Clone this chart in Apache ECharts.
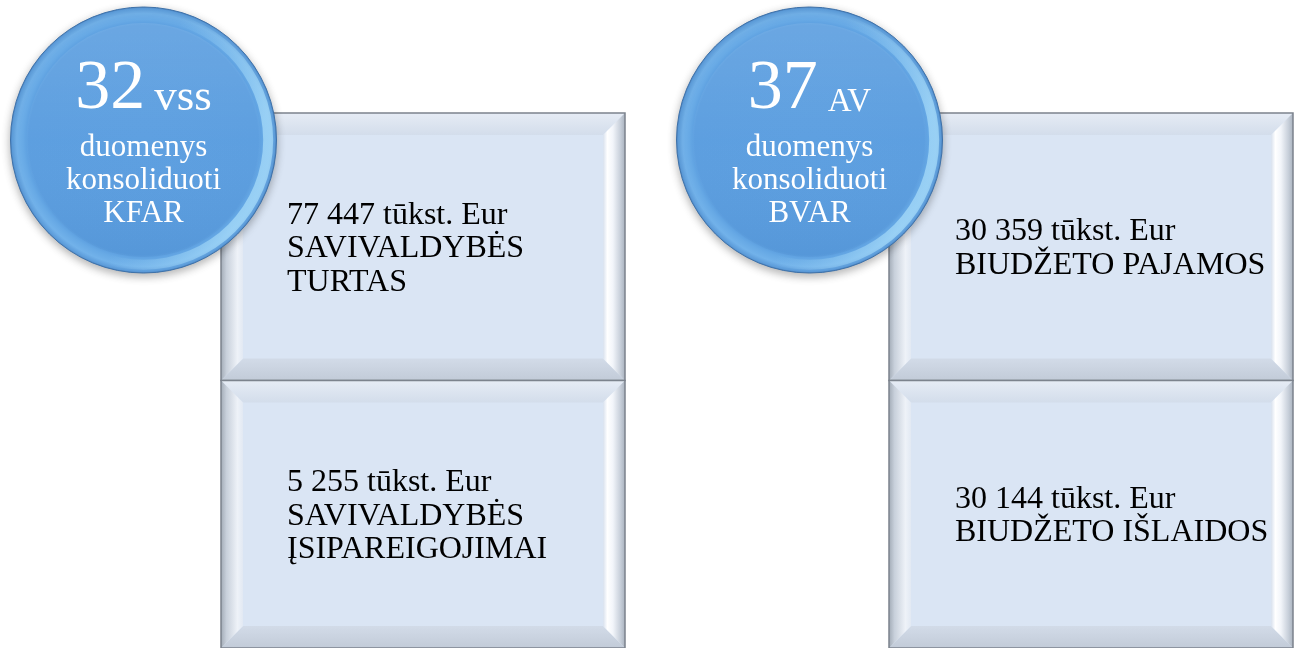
<!DOCTYPE html>
<html>
<head>
<meta charset="utf-8">
<script src="https://cdn.jsdelivr.net/npm/echarts@6/dist/echarts.min.js"></script>
<style>
html,body{margin:0;padding:0;background:#fff;}
#chart{width:1299px;height:648px;}
</style>
</head>
<body>
<div id="chart"></div>
<script>
// ---- data ----
const circleCounts = [32, 37];
const circleUnits = ['vss', 'AV'];
const circleLines = [
  ['duomenys', 'konsoliduoti', 'KFAR'],
  ['duomenys', 'konsoliduoti', 'BVAR']
];
const unitLabel = 'tūkst. Eur';
const boxValues = [
  ['77 447', '5 255'],
  ['30 359', '30 144']
];
const boxLabels = [
  [['SAVIVALDYBĖS', 'TURTAS'], ['SAVIVALDYBĖS', 'ĮSIPAREIGOJIMAI']],
  [['BIUDŽETO PAJAMOS'], ['BIUDŽETO IŠLAIDOS']]
];

// ---- layout ----
const FONT = "'Liberation Serif', 'Times New Roman', serif";
const panels = [
  { cx: 143.5, cy: 140, r: 133, boxX: 221, boxW: 404, unitSize: 45, gap: 9 },
  { cx: 809.5, cy: 140, r: 133, boxX: 889, boxW: 404, unitSize: 33, gap: 10 }
];
const boxTop = 113, boxH = 267.5;
const bev = 22;

const cv = document.createElement('canvas').getContext('2d');
function measure(text, size) {
  cv.font = size + 'px ' + FONT;
  return cv.measureText(text).width;
}

function lin(x, y, x2, y2, stops) {
  return { type: 'linear', x: x, y: y, x2: x2, y2: y2,
    colorStops: stops.map(s => ({ offset: s[0], color: s[1] })) };
}

function bevelBox(x, y, w, h, lines) {
  const els = [];
  els.push({ type: 'rect', shape: { x: x, y: y, width: w, height: h },
    style: { fill: '#dae5f4' } });
  // top
  els.push({ type: 'polygon', shape: { points: [[x, y], [x + w, y], [x + w - bev, y + bev], [x + bev, y + bev]] },
    style: { fill: lin(0, 0, 0, 1, [[0, '#e6ecf5'], [1, '#d3ddeb']]) } });
  // bottom
  els.push({ type: 'polygon', shape: { points: [[x, y + h], [x + w, y + h], [x + w - bev, y + h - bev], [x + bev, y + h - bev]] },
    style: { fill: lin(0, 0, 0, 1, [[0, '#d2dbe8'], [1, '#c2cbd8']]) } });
  // left
  els.push({ type: 'polygon', shape: { points: [[x, y], [x + bev, y + bev], [x + bev, y + h - bev], [x, y + h]] },
    style: { fill: lin(0, 0, 1, 0, [[0, '#a3acb7'], [0.25, '#c8d0db'], [0.75, '#eef2f8'], [1, '#e2e9f3']]) } });
  // right
  els.push({ type: 'polygon', shape: { points: [[x + w, y], [x + w, y + h], [x + w - bev, y + h - bev], [x + w - bev, y + bev]] },
    style: { fill: lin(0, 0, 1, 0, [[0, '#d8e1ee'], [0.2, '#ffffff'], [0.45, '#f2f5fa'], [0.8, '#c6ced9'], [1, '#aab3bf']]) } });
  // outline
  els.push({ type: 'rect', shape: { x: x, y: y, width: w, height: h },
    style: { fill: 'none', stroke: '#7c838d', lineWidth: 1.5 } });
  // text
  els.push({ type: 'text', x: x + 66, y: y + h / 2 + 2,
    style: { text: lines.join('\n'), font: '32px ' + FONT, fill: '#000000',
      align: 'left', verticalAlign: 'middle', lineHeight: 33.5 } });
  return els;
}

function circle(p, count, unit, lines) {
  const els = [];
  els.push({ type: 'circle', shape: { cx: p.cx, cy: p.cy, r: p.r },
    style: {
      fill: { type: 'radial', x: 0.5, y: 0.5, r: 0.5, colorStops: [
        { offset: 0, color: '#5b9ee0' }, { offset: 0.86, color: '#5a9ddf' },
        { offset: 0.9, color: '#67a9e5' }, { offset: 0.95, color: '#72b2ea' },
        { offset: 0.985, color: '#5e9edd' }, { offset: 1, color: '#4680c0' }] },
      stroke: '#3e72aa', lineWidth: 1,
      shadowBlur: 8, shadowOffsetY: 3, shadowColor: 'rgba(0,0,0,0.3)'
    } });
  // right-side rim highlight
  els.push({ type: 'ring', shape: { cx: p.cx, cy: p.cy, r: p.r * 0.975, r0: p.r * 0.9 },
    style: { fill: lin(0, 0, 1, 0.3, [[0, 'rgba(160,215,248,0)'], [0.6, 'rgba(160,215,248,0)'], [1, 'rgba(170,222,250,0.7)']]) } });
  // top sheen
  els.push({ type: 'circle', shape: { cx: p.cx, cy: p.cy, r: p.r * 0.88 },
    style: { fill: lin(0, 0, 0, 1, [[0, 'rgba(255,255,255,0.10)'], [0.5, 'rgba(255,255,255,0.02)'], [1, 'rgba(0,40,100,0.05)']]) } });
  const numStr = String(count);
  const wn = measure(numStr, 70), wu = measure(unit, p.unitSize);
  const start = p.cx - (wn + p.gap + wu) / 2;
  const baseline = p.cy - 27;
  els.push({ type: 'text', x: start, y: baseline - 0.3375 * 70,
    style: { text: numStr, font: '70px ' + FONT, fill: '#ffffff', align: 'left', verticalAlign: 'middle' } });
  els.push({ type: 'text', x: start + wn + p.gap, y: baseline - 0.3375 * p.unitSize,
    style: { text: unit, font: p.unitSize + 'px ' + FONT, fill: '#ffffff', align: 'left', verticalAlign: 'middle' } });
  els.push({ type: 'text', x: p.cx, y: p.cy + 40.5,
    style: { text: lines.join('\n'), font: '31px ' + FONT, fill: '#ffffff',
      align: 'center', verticalAlign: 'middle', lineHeight: 33 } });
  return els;
}

const elements = [];
panels.forEach((p, i) => {
  for (let j = 0; j < 2; j++) {
    const lines = [boxValues[i][j] + ' ' + unitLabel].concat(boxLabels[i][j]);
    elements.push.apply(elements, bevelBox(p.boxX, boxTop + j * boxH, p.boxW, boxH, lines));
  }
});
panels.forEach((p, i) => {
  elements.push.apply(elements, circle(p, circleCounts[i], circleUnits[i], circleLines[i]));
});

const chart = echarts.init(document.getElementById('chart'), null, { renderer: 'canvas' });
chart.setOption({
  backgroundColor: '#ffffff',
  animation: false,
  graphic: { elements: elements }
});
</script>
</body>
</html>
